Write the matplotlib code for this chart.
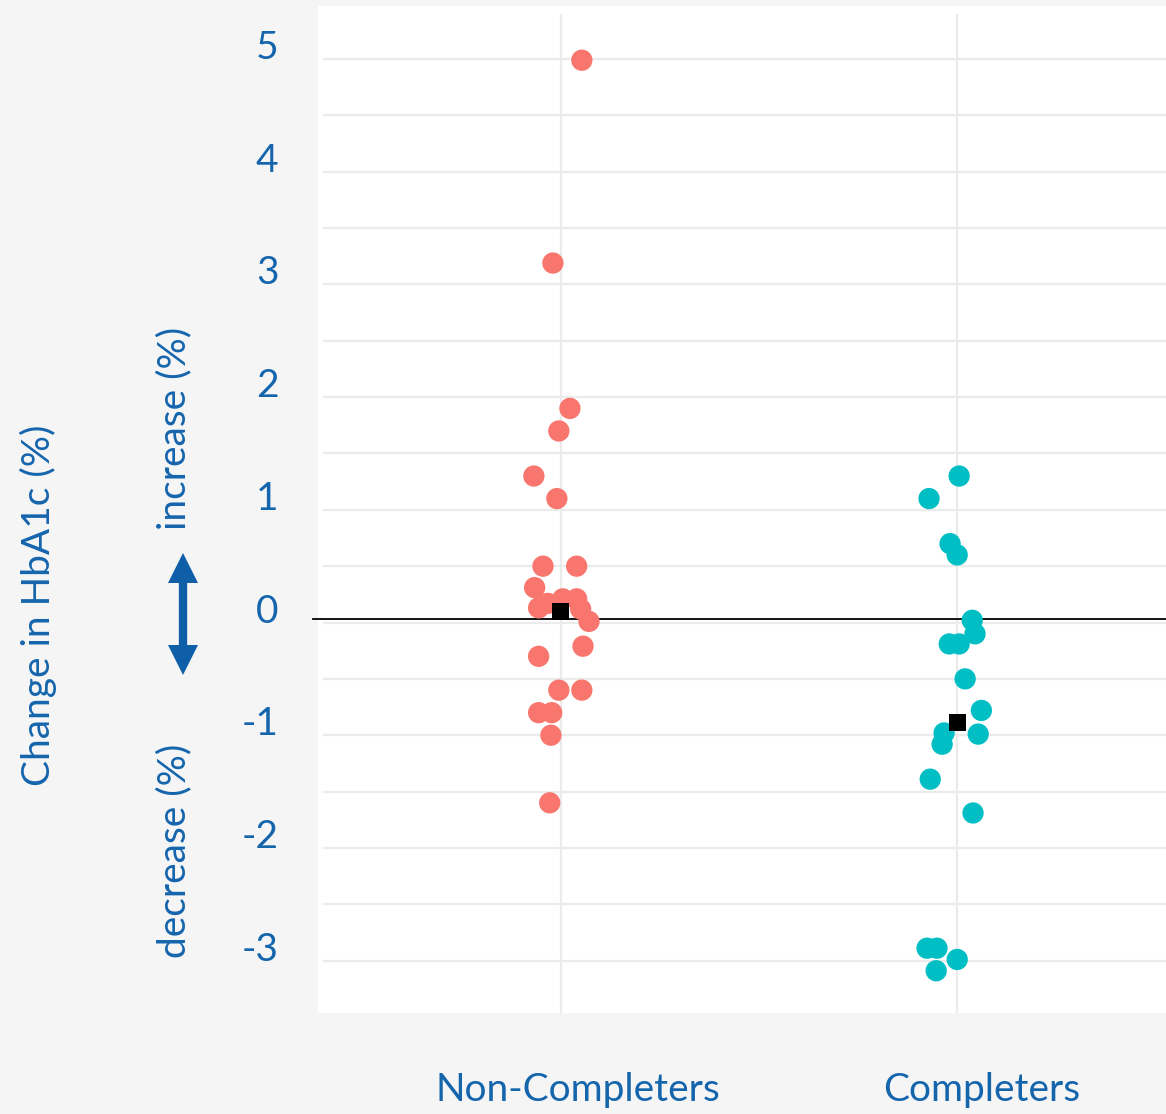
import matplotlib
matplotlib.use("Agg")
import matplotlib.pyplot as plt
from matplotlib.patches import Rectangle, FancyArrowPatch, ArrowStyle
from matplotlib.transforms import ScaledTranslation
import numpy as np

# ---------------- data ----------------
groups = ["Non-Completers", "Completers"]

noncompleters_values = [4.99, 3.19, 1.90, 1.70, 1.30, 1.10, 0.50, 0.50, 0.31, 0.13,
                        0.17, 0.21, 0.21, 0.12, 0.01, -0.21, -0.30, -0.60, -0.60,
                        -0.80, -0.80, -1.00, -1.60]
noncompleters_jitter = [0.053, -0.020, 0.023, -0.005, -0.068, -0.010, -0.045, 0.040,
                        -0.066, -0.056, -0.033, 0.005, 0.040, 0.050, 0.071, 0.056,
                        -0.056, -0.005, 0.053, -0.056, -0.023, -0.025, -0.028]

completers_values = [1.30, 1.10, 0.70, 0.60, 0.02, -0.10, -0.19, -0.19, -0.50, -0.78,
                     -0.98, -0.99, -1.08, -1.39, -1.69, -2.89, -2.89, -3.09, -2.99]
completers_jitter = [0.005, -0.071, -0.018, 0.000, 0.038, 0.045, -0.020, 0.005, 0.020,
                     0.061, -0.033, 0.053, -0.038, -0.068, 0.040, -0.076, -0.051,
                     -0.053, 0.000]

group_summary = [0.10, -0.89]   # black square markers

y_ticks = [-3, -2, -1, 0, 1, 2, 3, 4, 5]
y_tick_labels = ["-3", "-2", "-1", "0", "1", "2", "3", "4", "5"]

# ---------------- style ----------------
W, H = 1166, 1114
DPI = 100
bg = "#f5f5f5"
txt_col = "#1565ad"
arrow_col = "#0f5ea8"
red = "#f8766d"
teal = "#00bfc4"
grid_col = "#ebebeb"
FONT = ["Lato", "DejaVu Sans"]
FS = 28

plt.rcParams["font.family"] = FONT

fig = plt.figure(figsize=(W / DPI, H / DPI), dpi=DPI, facecolor=bg)

def fx(px):
    return px / W

def fy(py):
    return 1 - py / H

# white panel
fig.patches.append(Rectangle((fx(318), fy(1013)), 1 - fx(318), fy(6) - fy(1013),
                             transform=fig.transFigure, facecolor="white",
                             edgecolor="none", zorder=-5))

ax = fig.add_axes([fx(323), fy(1013), fx(1195) - fx(323), fy(14) - fy(1013)])
ax.set_zorder(1)
ax.patch.set_alpha(0)

ax.set_xlim(0.4, 2.6)
ax.set_ylim(-3.465, 5.40)

for s in ax.spines.values():
    s.set_visible(False)

ax.set_yticks(y_ticks)
ax.set_yticklabels(y_tick_labels, fontsize=FS, color=txt_col)
ax.set_yticks(np.arange(-3, 5.01, 0.5), minor=True)
ax.set_xticks([1, 2])
ax.set_xticklabels([])
ax.tick_params(axis="both", which="both", length=0)
ax.tick_params(axis="y", pad=32)
ax.grid(True, which="both", axis="y", color=grid_col, lw=1.6)
ax.grid(True, which="major", axis="x", color=grid_col, lw=1.6)
ax.set_axisbelow(True)

offset = ScaledTranslation(0, 0.145, fig.dpi_scale_trans)
for lab in ax.get_yticklabels():
    lab.set_transform(lab.get_transform() + offset)
    lab.set_horizontalalignment("right")

# zero line
ax.axhline(0.03, xmin=-0.012, xmax=1, color="black", lw=1.3, clip_on=False, zorder=2)

# points
ax.scatter(1 + np.array(noncompleters_jitter), noncompleters_values, s=235,
           color=red, edgecolors="none", zorder=3)
ax.scatter(2 + np.array(completers_jitter), completers_values, s=235,
           color=teal, edgecolors="none", zorder=3)
ax.scatter([1, 2], group_summary, marker="s", s=155, color="black",
           edgecolors="none", zorder=4)

# group labels
fig.text(fx(578), fy(1090), groups[0], ha="center", va="center",
         fontsize=FS, color=txt_col)
fig.text(fx(982), fy(1090), groups[1], ha="center", va="center",
         fontsize=FS, color=txt_col)

# axis titles
fig.text(fx(38), fy(605), "Change in HbA1c (%)", rotation=90, ha="center",
         va="center", fontsize=FS, color=txt_col)
fig.text(fx(174), fy(428), "increase (%)", rotation=90, ha="center",
         va="center", fontsize=FS, color=txt_col)
fig.text(fx(174), fy(851), "decrease (%)", rotation=90, ha="center",
         va="center", fontsize=FS, color=txt_col)

# double-headed arrow
style = ArrowStyle.Simple(head_length=21.6, head_width=21.6, tail_width=6.0)
for tip in (553, 675):
    arr = FancyArrowPatch((fx(183), fy(614)), (fx(183), fy(tip)),
                          transform=fig.transFigure, arrowstyle=style,
                          mutation_scale=1, color=arrow_col, lw=0,
                          shrinkA=0, shrinkB=0)
    fig.patches.append(arr)

fig.savefig("out.png", dpi=DPI, facecolor=bg)
